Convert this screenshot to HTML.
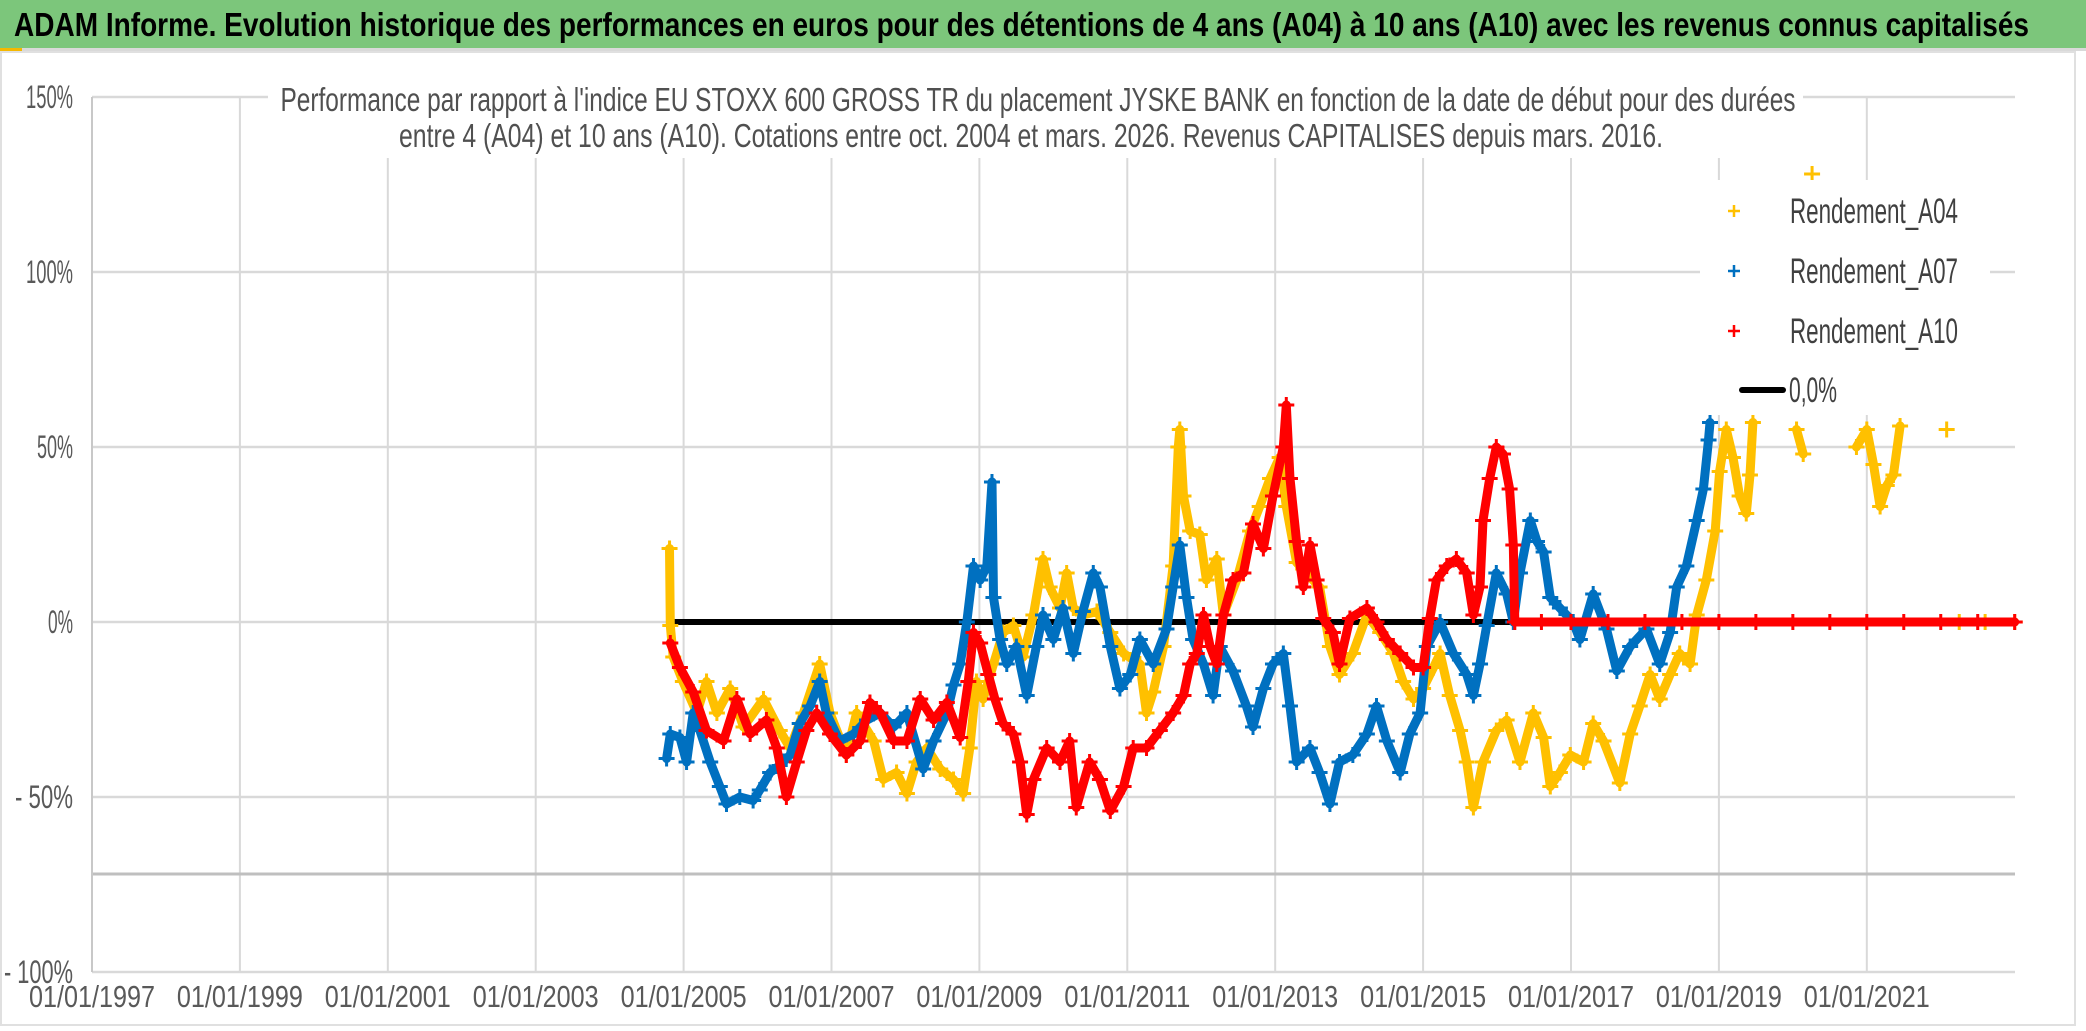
<!DOCTYPE html>
<html><head><meta charset="utf-8">
<style>
html,body{margin:0;padding:0;background:#fff;}
svg{display:block;}
text{font-family:"Liberation Sans Narrow","Liberation Sans",sans-serif;}
</style></head>
<body>
<svg id="chart" width="2086" height="1031" viewBox="0 0 2086 1031" xmlns="http://www.w3.org/2000/svg">
  <rect x="0" y="0" width="2086" height="1031" fill="#fff"/>
  <rect x="0" y="0" width="2086" height="48" fill="#7cc67b"/>
  <text x="14" y="36" font-size="33" font-weight="bold" fill="#000" textLength="2015" lengthAdjust="spacingAndGlyphs">ADAM Informe. Evolution historique des performances en euros pour des détentions de 4 ans (A04) à 10 ans (A10) avec les revenus connus capitalisés</text>
  <rect x="0" y="48" width="2086" height="3" fill="#d9d9d9"/>
  <rect x="0" y="48" width="22" height="4" fill="#f5b800"/>
  <rect x="1" y="52" width="2074" height="973" fill="none" stroke="#e0e0e0" stroke-width="2"/>
  <g id="grid"></g>
  <g id="axes"></g>
  <g id="series"></g>
  <rect x="268" y="80" width="1535" height="78" fill="#fff"/>
  <text x="1038" y="111" font-size="33" fill="#505050" text-anchor="middle" textLength="1515" lengthAdjust="spacingAndGlyphs">Performance par rapport à l'indice EU STOXX 600 GROSS TR  du placement JYSKE BANK en fonction de la date de début pour des durées</text>
  <text x="1031" y="147" font-size="33" fill="#505050" text-anchor="middle" textLength="1264" lengthAdjust="spacingAndGlyphs">entre 4 (A04) et 10 ans (A10). Cotations entre oct. 2004 et mars. 2026. Revenus CAPITALISES depuis mars. 2016.</text>
  <g id="legend"></g>
</svg>
<script>
const yTickValues=[150,100,50,0,-50,-100];
const yTickLabels=["150%","100%","50%","0%","- 50%","- 100%"];
const xTickYears=[1997,1999,2001,2003,2005,2007,2009,2011,2013,2015,2017,2019,2021];
const xTickLabels=["01/01/1997","01/01/1999","01/01/2001","01/01/2003","01/01/2005","01/01/2007","01/01/2009","01/01/2011","01/01/2013","01/01/2015","01/01/2017","01/01/2019","01/01/2021"];
const axisLineValue=-72;
const zeroLineYears=[2004.8,2023.0];
const zeroLineValues=[0,0];

const a04Years=[2004.81,2004.82,2004.86,2004.99,2005.18,2005.31,2005.45,2005.63,2005.81,2006.08,2006.30,2006.44,2006.62,2006.84,2006.98,2007.20,2007.34,2007.57,2007.70,2007.88,2008.02,2008.15,2008.29,2008.47,2008.65,2008.78,2008.87,2008.96,2009.05,2009.19,2009.32,2009.46,2009.59,2009.73,2009.86,2009.95,2010.09,2010.18,2010.27,2010.40,2010.59,2010.77,2010.95,2011.17,2011.26,2011.35,2011.49,2011.62,2011.69,2011.71,2011.76,2011.85,2011.98,2012.07,2012.21,2012.30,2012.48,2012.66,2012.79,2012.93,2013.06,2013.15,2013.29,2013.42,2013.60,2013.74,2013.87,2014.05,2014.24,2014.42,2014.60,2014.73,2014.87,2015.00,2015.14,2015.23,2015.36,2015.50,2015.59,2015.68,2015.81,2015.99,2016.13,2016.31,2016.49,2016.63,2016.72,2016.85,2016.99,2017.17,2017.30,2017.44,2017.66,2017.80,2017.93,2018.07,2018.20,2018.34,2018.47,2018.61,2018.70,2018.83,2018.95,2019.01,2019.10,2019.19,2019.28,2019.37,2019.42,2019.46,2019.70,2020.05,2020.14,2020.20,2020.26,2020.32,2020.86,2021.00,2021.09,2021.18,2021.27,2021.36,2021.45,2021.70,2022.08,2022.15,2022.25,2022.6,2023.0];
const a04Values=[21,-1,-10,-17,-26,-17,-26,-19,-30,-22,-31,-36,-26,-12,-26,-38,-26,-34,-45,-43,-49,-40,-36,-42,-45,-49,-36,-17,-22,-12,-3,-1,-10,2,18,10,4,14,4,2,3,-3,-9,-12,-26,-20,-7,16,50,55,36,26,25,12,18,2,12,26,33,41,47,33,17,14,10,-7,-15,-9,2,-3,-9,-17,-22,-19,-13,-9,-21,-31,-40,-53,-40,-31,-28,-40,-26,-33,-47,-43,-38,-40,-29,-34,-46,-32,-24,-15,-22,-15,-9,-12,2,12,26,43,55,47,36,31,42,57,null,55,48,null,128,null,50,55,45,33,39,42,56,null,55,null,0,0,0];

const a07Years=[2004.77,2004.82,2004.95,2005.04,2005.13,2005.22,2005.36,2005.49,2005.58,2005.76,2005.94,2006.03,2006.17,2006.30,2006.44,2006.57,2006.71,2006.84,2006.93,2007.11,2007.30,2007.48,2007.66,2007.84,2008.02,2008.24,2008.38,2008.56,2008.65,2008.74,2008.83,2008.92,2009.01,2009.10,2009.17,2009.19,2009.28,2009.37,2009.50,2009.64,2009.77,2009.86,2010.00,2010.13,2010.27,2010.40,2010.54,2010.63,2010.77,2010.90,2011.04,2011.17,2011.35,2011.53,2011.62,2011.71,2011.80,2011.89,2012.03,2012.16,2012.25,2012.43,2012.61,2012.70,2012.84,2012.97,2013.11,2013.20,2013.29,2013.47,2013.60,2013.74,2013.87,2014.05,2014.24,2014.37,2014.51,2014.69,2014.82,2014.96,2015.05,2015.23,2015.41,2015.59,2015.68,2015.77,2015.86,2015.99,2016.13,2016.22,2016.31,2016.45,2016.54,2016.63,2016.72,2016.85,2017.03,2017.12,2017.30,2017.48,2017.62,2017.80,2018.02,2018.20,2018.34,2018.43,2018.56,2018.70,2018.79,2018.86,2018.88];
const a07Values=[-39,-32,-33,-40,-26,-31,-40,-47,-52,-50,-51,-48,-43,-41,-38,-29,-24,-17,-26,-34,-32,-28,-26,-30,-26,-42,-34,-26,-18,-12,0,16,12,16,40,7,-5,-12,-7,-21,-7,2,-5,4,-9,3,14,10,-7,-19,-15,-5,-12,-2,10,22,7,-5,-12,-21,-7,-14,-24,-30,-19,-12,-9,-24,-40,-36,-43,-52,-40,-38,-32,-24,-34,-43,-32,-26,-7,0,-9,-15,-21,-12,-1,14,8,0,14,29,23,20,7,4,0,-5,8,-2,-14,-7,-2,-12,-3,10,16,29,38,52,57];

const a10Years=[2004.82,2004.95,2005.13,2005.31,2005.54,2005.72,2005.90,2006.12,2006.26,2006.39,2006.53,2006.66,2006.80,2006.98,2007.20,2007.39,2007.52,2007.66,2007.84,2008.02,2008.20,2008.38,2008.56,2008.74,2008.85,2008.92,2009.01,2009.12,2009.21,2009.32,2009.46,2009.55,2009.64,2009.73,2009.91,2010.09,2010.22,2010.31,2010.49,2010.63,2010.77,2010.95,2011.08,2011.26,2011.44,2011.62,2011.76,2011.85,2011.94,2012.03,2012.12,2012.21,2012.30,2012.43,2012.57,2012.70,2012.84,2012.97,2013.11,2013.15,2013.20,2013.29,2013.38,2013.47,2013.56,2013.65,2013.78,2013.87,2014.01,2014.24,2014.37,2014.51,2014.69,2014.87,2015.00,2015.09,2015.18,2015.32,2015.45,2015.59,2015.68,2015.77,2015.81,2015.90,2015.99,2016.08,2016.17,2016.22,2016.24,2016.6,2017.0,2017.5,2018.0,2018.5,2019.0,2019.5,2020.0,2020.5,2021.0,2021.5,2022.0,2022.5,2023.0];
const a10Values=[-6,-13,-20,-31,-34,-22,-32,-28,-36,-50,-40,-31,-26,-32,-38,-34,-23,-26,-34,-34,-22,-28,-23,-33,-17,-3,-6,-15,-22,-29,-32,-40,-55,-45,-36,-40,-34,-53,-40,-45,-54,-47,-36,-36,-31,-26,-21,-12,-9,2,-7,-12,2,12,14,28,21,36,50,62,41,23,10,22,12,1,-3,-12,1,4,0,-5,-9,-13,-13,1,12,16,18,14,2,10,29,41,50,48,38,22,0,0,0,0,0,0,0,0,0,0,0,0,0,0,0];

const NS="http://www.w3.org/2000/svg";
const X0=92, PXY=73.95, Y0=622, PXV=3.5, TOP=97, BOT=972, RIGHT=2015;
function xs(yr){return X0+(yr-1997)*PXY;}
function ys(v){return Y0-v*PXV;}
function mk(tag,attrs,parent){const e=document.createElementNS(NS,tag);for(const k in attrs)e.setAttribute(k,attrs[k]);parent.appendChild(e);return e;}

const grid=document.getElementById('grid');
const axes=document.getElementById('axes');
yTickValues.forEach((v,i)=>{
  const l=mk('line',{x1:X0,x2:RIGHT,y1:ys(v),y2:ys(v),stroke:'#d9d9d9','stroke-width':2.5},grid);
  
  
  const lab=yTickLabels[i];
  const t=mk('text',{x:73,y:ys(v)+11,'font-size':32,fill:'#595959','text-anchor':'end',textLength:lab.length*11+3,lengthAdjust:'spacingAndGlyphs'},axes);
  t.textContent=lab;
  
  
});
xTickYears.forEach((yr,i)=>{
  const l=mk('line',{x1:xs(yr),x2:xs(yr),y1:TOP,y2:BOT,stroke:'#d9d9d9','stroke-width':2},grid);
  
  
  const t=mk('text',{x:xs(yr),y:1007,'font-size':31,fill:'#595959','text-anchor':'middle',textLength:126,lengthAdjust:'spacingAndGlyphs'},axes);
  t.textContent=xTickLabels[i];
  
  
});
const ax=mk('line',{x1:X0,x2:RIGHT,y1:ys(axisLineValue),y2:ys(axisLineValue),stroke:'#bfbfbf','stroke-width':3},grid);


const vx=mk('line',{x1:X0,x2:X0,y1:TOP,y2:BOT,stroke:'#c8c8c8','stroke-width':2},grid);



const ser=document.getElementById('series');
function drawSeries(years,vals,color,name){
  const g=mk('g',{},ser);
  
  
  let seg=[];
  const flush=()=>{ if(seg.length>1){const p=mk('polyline',{points:seg.join(' '),fill:'none',stroke:color,'stroke-width':9,'stroke-linejoin':'round','stroke-linecap':'round'},g);
    
    } seg=[]; };
  years.forEach((yr,i)=>{
    const v=vals[i];
    if(v===null||v===undefined){flush();return;}
    const x=xs(yr), y=ys(v);
    seg.push(x.toFixed(1)+','+y.toFixed(1));
    const m=mk('path',{d:`M${x-8},${y}H${x+8}M${x},${y-8}V${y+8}`,stroke:color,'stroke-width':3},g);
    
    
  });
  flush();
}
const zl=mk('line',{x1:xs(zeroLineYears[0]),x2:xs(zeroLineYears[1]),y1:ys(zeroLineValues[0]),y2:ys(zeroLineValues[1]),stroke:'#000','stroke-width':6},ser);


drawSeries(a04Years,a04Values,'#ffc000','series-a04');
drawSeries(a07Years,a07Values,'#0070c0','series-a07');
drawSeries(a10Years,a10Values,'#ff0000','series-a10');

const lg=document.getElementById('legend');
const bg=mk('rect',{x:1700,y:180,width:290,height:235,fill:'#fff'},lg);


const legNames=["Rendement_A04","Rendement_A07","Rendement_A10"];
const legColors=["#ffc000","#0070c0","#ff0000"];
legNames.forEach((n,i)=>{
  const y=211+i*60;
  const m=mk('path',{d:`M${1728},${y}H${1740}M${1734},${y-6}V${y+6}`,stroke:legColors[i],'stroke-width':2.5},lg);
  
  
  const t=mk('text',{x:1790,y:y+12,'font-size':35,fill:'#404040',textLength:168,lengthAdjust:'spacingAndGlyphs'},lg);
  t.textContent=n;
  
  
});
const ll=mk('line',{x1:1742,x2:1783,y1:390,y2:390,stroke:'#000','stroke-width':6,'stroke-linecap':'round'},lg);


const lt=mk('text',{x:1789,y:402,'font-size':35,fill:'#404040',textLength:48,lengthAdjust:'spacingAndGlyphs'},lg);
lt.textContent="0,0%";


</script>
</body></html>
